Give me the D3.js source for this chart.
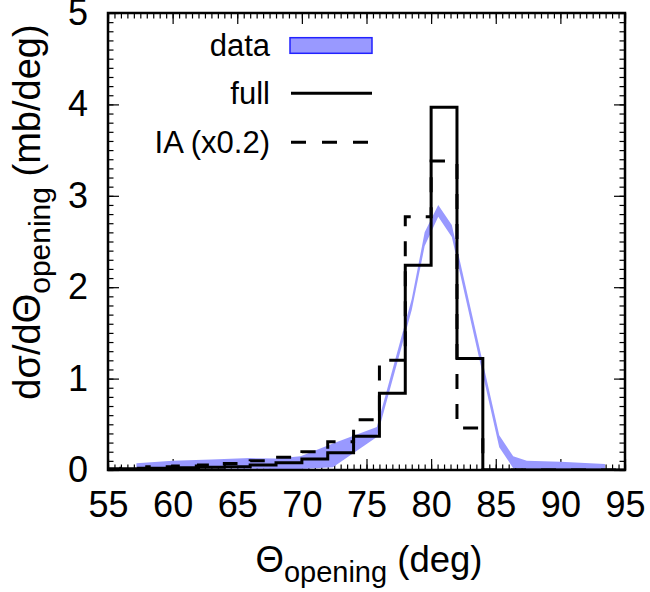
<!DOCTYPE html>
<html>
<head>
<meta charset="utf-8">
<script src="https://cdn.jsdelivr.net/npm/d3@7"></script>
<style>
  body { margin: 0; background: #fff; }
  text { font-family: "Liberation Sans", Arial, Helvetica, sans-serif; fill: #000; }
</style>
</head>
<body>
<div id="chart"></div>
<script>
// histogram bins (2 deg wide), centres
const binCenters = [55, 57, 59, 61, 63, 65, 67, 69, 71, 73, 75, 77, 79, 81, 83, 85, 87, 89, 91, 93, 95];
const fullValues = [0.01, 0.015, 0.02, 0.025, 0.03, 0.036, 0.055, 0.08, 0.12, 0.19, 0.37, 0.84, 2.24, 3.97, 1.22, 0, 0, 0, 0, 0, 0];
const iaValues   = [0.01, 0.02, 0.035, 0.045, 0.055, 0.07, 0.1, 0.14, 0.2, 0.31, 0.55, 1.2, 2.77, 3.38, 0.46, 0, 0, 0, 0, 0, 0];

// measured band (lower / upper)
const dataTheta = [57.2, 60, 63, 66, 68, 69.9, 72.4, 75.8, 78.5, 79.5, 80.55, 81.6, 85.27, 86.35, 87.4, 90, 93.45];
const dataLow   = [0.02, 0.02, 0.02, 0.015, 0.01, 0.01, 0.03, 0.36, 1.75, 2.45, 2.77, 2.55, 0.25, 0.02, 0.01, 0.01, 0.005];
const dataHigh  = [0.075, 0.10, 0.115, 0.13, 0.125, 0.15, 0.29, 0.47, 1.87, 2.6, 2.9, 2.68, 0.38, 0.15, 0.1, 0.09, 0.065];

const xTicks = [55, 60, 65, 70, 75, 80, 85, 90, 95];
const yTicks = [0, 1, 2, 3, 4, 5];

const width = 650, height = 592;
const plot = {left: 108, right: 625, top: 13, bottom: 470};

const x = d3.scaleLinear().domain([55, 95]).range([plot.left, plot.right]);
const y = d3.scaleLinear().domain([0, 5]).range([plot.bottom, plot.top]);

const svg = d3.select("#chart").append("svg")
  .attr("width", width)
  .attr("height", height);

svg.append("defs").append("clipPath").attr("id", "clip")
  .append("rect")
  .attr("x", plot.left).attr("y", plot.top)
  .attr("width", plot.right - plot.left).attr("height", plot.bottom - plot.top);

// ticks (inward, mirrored)
function tickAxis(axis, tr, size, values, labels, pad) {
  const g = svg.append("g").attr("transform", tr)
    .call(axis.tickValues(values).tickSize(-size).tickPadding(pad)
      .tickFormat(labels ? d3.format("d") : ""));
  g.select(".domain").remove();
  g.selectAll(".tick line").attr("stroke", "#000").attr("stroke-width", 1.2);
  g.selectAll("text").attr("font-size", 36).attr("fill", "#000")
    .style("font-family", "'Liberation Sans', Arial, sans-serif");
  return g;
}
const xMinor = x.ticks(80), yMinor = y.ticks(50);
tickAxis(d3.axisBottom(x), `translate(0,${plot.bottom})`, 5.5, xMinor, false, 0);
tickAxis(d3.axisTop(x), `translate(0,${plot.top})`, 5.5, xMinor, false, 0);
tickAxis(d3.axisLeft(y), `translate(${plot.left},0)`, 5.5, yMinor, false, 0);
tickAxis(d3.axisRight(y), `translate(${plot.right},0)`, 5.5, yMinor, false, 0);
tickAxis(d3.axisBottom(x), `translate(0,${plot.bottom})`, 11, xTicks, true, 21);
tickAxis(d3.axisTop(x), `translate(0,${plot.top})`, 11, xTicks, false, 0);
tickAxis(d3.axisLeft(y), `translate(${plot.left},0)`, 11, yTicks, true, 20);
tickAxis(d3.axisRight(y), `translate(${plot.right},0)`, 11, yTicks, false, 0);

const body = svg.append("g").attr("clip-path", "url(#clip)");

// data band
const band = dataTheta.map((t, i) => ({t, lo: dataLow[i], hi: dataHigh[i]}));
body.append("path")
  .datum(band)
  .attr("fill", "#9999ff")
  .attr("stroke", "none")
  .attr("d", d3.area().x(d => x(d.t)).y0(d => y(d.lo)).y1(d => y(d.hi)));

// histograms
const step = d3.line().x(d => x(d[0])).y(d => y(d[1])).curve(d3.curveStep);
body.append("path")
  .datum(binCenters.map((c, i) => [c, iaValues[i]]))
  .attr("fill", "none").attr("stroke", "#000").attr("stroke-width", 3)
  .attr("stroke-dasharray", "15,15")
  .attr("d", step);
body.append("path")
  .datum(binCenters.map((c, i) => [c, fullValues[i]]))
  .attr("fill", "none").attr("stroke", "#000").attr("stroke-width", 3)
  .attr("d", step);

// frame
svg.append("rect")
  .attr("x", plot.left).attr("y", plot.top)
  .attr("width", plot.right - plot.left).attr("height", plot.bottom - plot.top)
  .attr("fill", "none").attr("stroke", "#000").attr("stroke-width", 2.5);

// legend
const legend = svg.append("g").attr("font-size", 31);
const rows = [
  {label: "data", cy: 45.5, kind: "box"},
  {label: "full", cy: 93.3, kind: "solid"},
  {label: "IA (x0.2)", cy: 142.3, kind: "dash"}
];
rows.forEach(r => {
  legend.append("text").attr("x", 270).attr("y", r.cy + 10.5)
    .attr("text-anchor", "end").text(r.label);
  if (r.kind === "box") {
    legend.append("rect").attr("x", 290).attr("y", r.cy - 7.8)
      .attr("width", 82).attr("height", 15.6)
      .attr("fill", "#9999ff").attr("stroke", "#2222ff").attr("stroke-width", 1.5);
  } else {
    legend.append("line").attr("x1", 291).attr("x2", 372)
      .attr("y1", r.cy).attr("y2", r.cy)
      .attr("stroke", "#000").attr("stroke-width", 3)
      .attr("stroke-dasharray", r.kind === "dash" ? "15,16" : null);
  }
});

// axis titles
const xt = svg.append("text").attr("x", 369).attr("y", 572)
  .attr("text-anchor", "middle").attr("font-size", 36.5);
xt.append("tspan").text("Θ");
xt.append("tspan").attr("font-size", 29).attr("dy", 10).text("opening");
xt.append("tspan").attr("dy", -10).text(" (deg)");

const yt = svg.append("text")
  .attr("transform", "translate(40,212) rotate(-90)")
  .attr("text-anchor", "middle").attr("font-size", 38);
yt.append("tspan").text("dσ/dΘ");
yt.append("tspan").attr("font-size", 30).attr("dy", 10).text("opening");
yt.append("tspan").attr("dy", -10).text(" (mb/deg)");
</script>
</body>
</html>
